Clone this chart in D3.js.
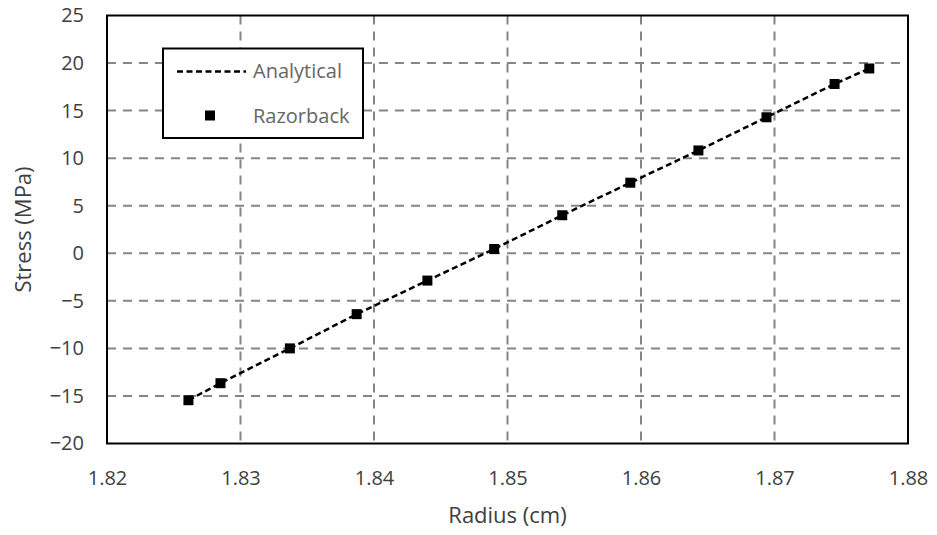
<!DOCTYPE html>
<html>
<head>
<meta charset="utf-8">
<script src="https://cdn.jsdelivr.net/npm/d3@7"></script>
<style>
  html, body { margin: 0; padding: 0; background: #fff; }
  svg { display: block; font-family: "Open Sans", sans-serif; }
</style>
</head>
<body>
<svg id="chart" width="937" height="535"></svg>
<script>
// Razorback results vs. analytical solution: stress across the radius
const radius = [1.8261, 1.8285, 1.8337, 1.8387, 1.8440, 1.8490, 1.8541, 1.8592, 1.8643, 1.8694, 1.8745, 1.8771];
const razorbackStress = [-15.45, -13.66, -10.0, -6.4, -2.87, 0.45, 4.0, 7.42, 10.81, 14.3, 17.8, 19.43];
const analyticalRadius = [1.8261, 1.8285, 1.8337, 1.8387, 1.8440, 1.8490, 1.8541, 1.8592, 1.8643, 1.8694, 1.8745, 1.8771];
const analyticalStress = [-15.45, -13.66, -10.0, -6.4, -2.87, 0.45, 4.0, 7.42, 10.81, 14.3, 17.8, 19.43];
const xTicks = [1.82, 1.83, 1.84, 1.85, 1.86, 1.87, 1.88];
const yTicks = [-20, -15, -10, -5, 0, 5, 10, 15, 20, 25];
const seriesNames = ["Analytical", "Razorback"];

const svg = d3.select("#chart");
const plot = { left: 107, right: 908, top: 15.5, bottom: 443.5 };

const x = d3.scaleLinear().domain([1.82, 1.88]).range([plot.left, plot.right]);
const y = d3.scaleLinear().domain([-20, 25]).range([plot.bottom, plot.top]);

const gridColor = "#858585";
const textColor = "#404040";

// gridlines
const grid = svg.append("g");
grid.selectAll("line.gx")
  .data(xTicks.slice(1, -1))
  .join("line")
  .attr("x1", d => x(d)).attr("x2", d => x(d))
  .attr("y1", plot.top).attr("y2", plot.bottom)
  .attr("stroke", gridColor).attr("stroke-width", 2)
  .attr("stroke-dasharray", "9,7");
grid.selectAll("line.gy")
  .data(yTicks.slice(1, -1))
  .join("line")
  .attr("x1", plot.left).attr("x2", plot.right)
  .attr("y1", d => y(d)).attr("y2", d => y(d))
  .attr("stroke", gridColor).attr("stroke-width", 2)
  .attr("stroke-dasharray", "9,7");

// axes (labels only, no tick marks)
const xAxis = svg.append("g")
  .attr("transform", `translate(0,${plot.bottom})`)
  .call(d3.axisBottom(x).tickValues(xTicks).tickFormat(d3.format(".2f")).tickSize(0).tickPadding(27));
const yAxis = svg.append("g")
  .attr("transform", `translate(${plot.left},0)`)
  .call(d3.axisLeft(y).tickValues(yTicks).tickFormat(d3.format("d")).tickSize(0).tickPadding(23));
[xAxis, yAxis].forEach(g => {
  g.select(".domain").remove();
  g.selectAll("text")
    .attr("fill", textColor)
    .style("font-size", "20px")
    .style("font-family", "'Open Sans', sans-serif");
});

// plot frame
svg.append("rect")
  .attr("x", plot.left).attr("y", plot.top)
  .attr("width", plot.right - plot.left).attr("height", plot.bottom - plot.top)
  .attr("fill", "none").attr("stroke", "#000").attr("stroke-width", 2);

// analytical curve
const line = d3.line().x(d => x(d[0])).y(d => y(d[1]));
svg.append("path")
  .datum(d3.zip(analyticalRadius, analyticalStress))
  .attr("d", line)
  .attr("fill", "none").attr("stroke", "#000").attr("stroke-width", 2.5)
  .attr("stroke-dasharray", "6,3.5");

// razorback markers
const ms = 10;
svg.append("g").selectAll("rect")
  .data(d3.zip(radius, razorbackStress))
  .join("rect")
  .attr("x", d => x(d[0]) - ms / 2).attr("y", d => y(d[1]) - ms / 2)
  .attr("width", ms).attr("height", ms)
  .attr("fill", "#000");

// axis titles
svg.append("text")
  .attr("x", (plot.left + plot.right) / 2).attr("y", 523)
  .attr("text-anchor", "middle")
  .attr("fill", textColor).style("font-size", "22px")
  .text("Radius (cm)");
svg.append("text")
  .attr("transform", `translate(31,${(plot.top + plot.bottom) / 2}) rotate(-90)`)
  .attr("text-anchor", "middle")
  .attr("fill", textColor).style("font-size", "22px")
  .text("Stress (MPa)");

// legend
const legend = svg.append("g");
legend.append("rect")
  .attr("x", 163).attr("y", 48.5).attr("width", 200).attr("height", 89.5)
  .attr("fill", "#fff").attr("stroke", "#000").attr("stroke-width", 2);
legend.append("line")
  .attr("x1", 177).attr("x2", 246).attr("y1", 71.5).attr("y2", 71.5)
  .attr("stroke", "#000").attr("stroke-width", 2.5).attr("stroke-dasharray", "6,3.5");
legend.append("rect")
  .attr("x", 210 - ms / 2).attr("y", 115.5 - ms / 2).attr("width", ms).attr("height", ms)
  .attr("fill", "#000");
legend.selectAll("text.lg")
  .data(seriesNames)
  .join("text")
  .attr("x", 253).attr("y", (d, i) => 78 + i * 45)
  .attr("fill", "#666").style("font-size", "20px")
  .text(d => d);
</script>
</body>
</html>
